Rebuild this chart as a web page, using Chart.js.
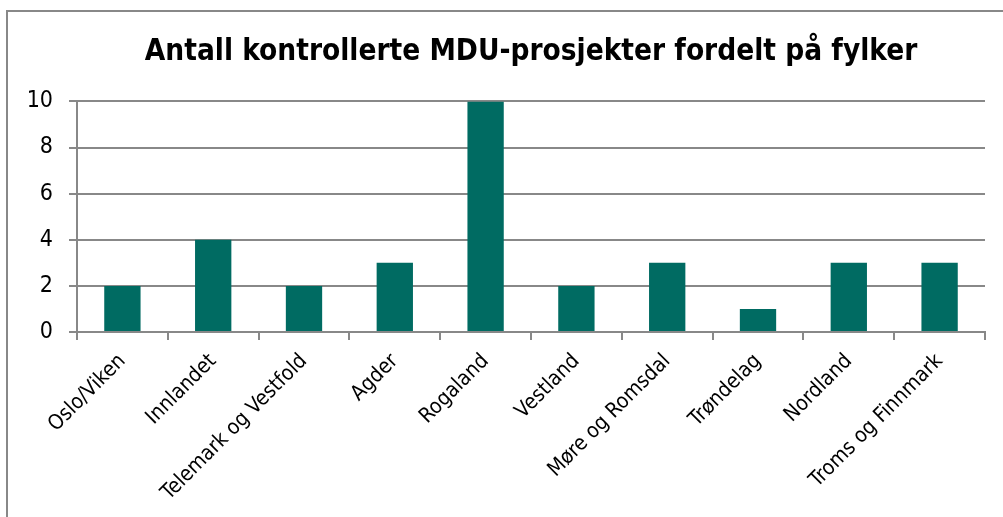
<!DOCTYPE html>
<html>
<head>
<meta charset="utf-8">
<script src="https://cdn.jsdelivr.net/npm/chart.js@4/dist/chart.umd.min.js"></script>
<style>
  html, body { margin: 0; padding: 0; background: #fff; }
  #frame {
    position: absolute; left: 6px; top: 10px; width: 1100px; height: 600px;
    border-left: 2px solid #888; border-top: 2px solid #888;
  }
  #wrap { position: absolute; left: 0; top: 0; width: 1003px; height: 517px; }
</style>
</head>
<body>
<div id="frame"></div>
<div id="wrap"><canvas id="chart" width="1003" height="517"></canvas></div>
<script>
const titleText = 'Antall kontrollerte MDU-prosjekter fordelt på fylker';
const fylker = ['Oslo/Viken', 'Innlandet', 'Telemark og Vestfold', 'Agder', 'Rogaland',
  'Vestland', 'Møre og Romsdal', 'Trøndelag', 'Nordland', 'Troms og Finnmark'];
const antall = [2, 4, 2, 3, 10, 2, 3, 1, 3, 3];

const fontFamily = '"DejaVu Sans Condensed", "DejaVu Sans", sans-serif';
const gridColor = '#888888';

const ctx = document.getElementById('chart').getContext('2d');
new Chart(ctx, {
  type: 'bar',
  data: {
    labels: fylker,
    datasets: [{
      label: 'Antall',
      data: antall,
      backgroundColor: '#006b62',
      borderWidth: 0,
      barPercentage: 0.4,
      categoryPercentage: 1.0
    }]
  },
  options: {
    responsive: false,
    animation: false,
    layout: { padding: { left: 0, right: 18, top: 0, bottom: 0 } },
    plugins: {
      legend: { display: false },
      tooltip: { enabled: false },
      title: {
        display: true,
        text: titleText,
        color: '#000',
        fullSize: false,
        font: { family: fontFamily, size: 29.5, weight: 'bold' },
        padding: { top: 35, bottom: 31 }
      }
    },
    scales: {
      x: {
        afterFit: (s) => { s.height = 185; },
        grid: { display: true, drawOnChartArea: false, drawTicks: true, tickLength: 8, color: gridColor, lineWidth: 2 },
        border: { display: true, color: gridColor, width: 2 },
        ticks: {
          color: '#000',
          minRotation: 45, maxRotation: 45,
          autoSkip: false,
          padding: 9,
          font: { family: fontFamily, size: 21 }
        }
      },
      y: {
        min: 0, max: 10,
        afterFit: (s) => { s.width = 77; },
        grid: { color: gridColor, lineWidth: 2, tickLength: 8 },
        border: { display: true, color: gridColor, width: 2 },
        ticks: {
          stepSize: 2,
          color: '#000',
          padding: 16,
          font: { family: fontFamily, size: 23 }
        }
      }
    }
  }
});
</script>
</body>
</html>
